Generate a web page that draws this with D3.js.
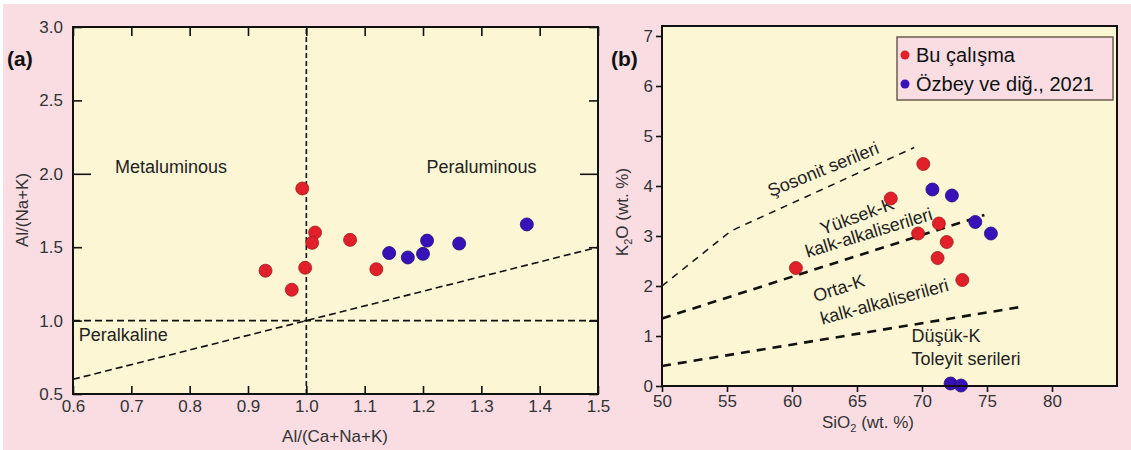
<!DOCTYPE html>
<html>
<head>
<meta charset="utf-8">
<script src="https://cdn.jsdelivr.net/npm/d3@7"></script>
<style>
body { margin:0; background:#ffffff; }
svg text { font-family: "Liberation Sans", Arial, sans-serif; }
</style>
</head>
<body>
<svg id="chart" width="1131" height="450"></svg>
<script>
// panel (a) : Al/(Ca+Na+K) vs Al/(Na+K)
var aRedX  = [0.993, 1.015, 1.010, 1.075, 0.998, 0.930, 0.975, 1.120];
var aRedY  = [1.90, 1.60, 1.53, 1.55, 1.36, 1.34, 1.21, 1.35];
var aBlueX = [1.142, 1.174, 1.200, 1.207, 1.262, 1.378];
var aBlueY = [1.46, 1.43, 1.455, 1.545, 1.525, 1.655];
var aTicksX = [0.6, 0.7, 0.8, 0.9, 1.0, 1.1, 1.2, 1.3, 1.4, 1.5];
var aTicksY = [0.5, 1.0, 1.5, 2.0, 2.5, 3.0];

// panel (b) : SiO2 vs K2O
var bRedSi  = [70.1, 67.6, 71.3, 69.7, 71.9, 71.2, 60.3, 73.1];
var bRedK   = [4.44, 3.75, 3.25, 3.05, 2.88, 2.56, 2.36, 2.12];
var bBlueSi = [70.8, 72.3, 74.1, 75.3, 72.2, 73.0];
var bBlueK  = [3.93, 3.81, 3.28, 3.05, 0.05, 0.01];
var bTicksX = [50, 55, 60, 65, 70, 75, 80];
var bTicksY = [0, 1, 2, 3, 4, 5, 6, 7];

// series boundaries (Peccerillo & Taylor style)
var lineShoshonite = [[50, 2.0], [55.3, 3.1], [69.4, 4.77]];
var lineHighK = [[50, 1.35], [74.8, 3.42]];
var lineLowK = [[50, 0.4], [77.8, 1.59]];

var legendNames = ["Bu çalışma", "Özbey ve diğ., 2021"];

var redFill = "#e2202a", redStroke = "#9a1a1c";
var blueFill = "#3812b8", blueStroke = "#1f0d78";
var pink = "#f9dde3", yellow = "#fdf6d4";

var svg = d3.select("#chart");

svg.append("rect").attr("x", 3).attr("y", 4).attr("width", 1128).attr("height", 446).attr("fill", pink);

var zip = function(xs, ys) {
    return xs.map(function(d, i) { return [d, ys[i]]; });
};

// ---------------- panel (a)
var xA = d3.scaleLinear().domain([0.6, 1.5]).range([73, 598]);
var yA = d3.scaleLinear().domain([0.5, 3.0]).range([394, 27]);

var gA = svg.append("g");
gA.append("rect")
    .attr("x", 73).attr("y", 27).attr("width", 525).attr("height", 367)
    .attr("fill", yellow);

var lineA = d3.line().x(function(d) { return xA(d[0]); }).y(function(d) { return yA(d[1]); });

gA.append("path").attr("d", lineA([[1.0, 0.5], [1.0, 3.0]]))
    .attr("stroke", "#111").attr("stroke-width", 1.6).attr("stroke-dasharray", "5,3").attr("fill", "none");
gA.append("path").attr("d", lineA([[0.6, 1.0], [1.5, 1.0]]))
    .attr("stroke", "#111").attr("stroke-width", 1.6).attr("stroke-dasharray", "7,4").attr("fill", "none");
gA.append("path").attr("d", lineA([[0.6, 0.6], [1.5, 1.5]]))
    .attr("stroke", "#111").attr("stroke-width", 1.6).attr("stroke-dasharray", "7,4").attr("fill", "none");

var axisStyle = function(g) {
    g.select(".domain").remove();
    g.selectAll(".tick line").attr("stroke", "#111").attr("stroke-width", 1.6);
    g.selectAll(".tick text").attr("fill", "#333").style("font-size", "17px");
};

gA.append("g").attr("transform", "translate(0,394)")
    .call(d3.axisBottom(xA).tickValues(aTicksX).tickSize(-8).tickPadding(6).tickFormat(d3.format(".1f")))
    .call(axisStyle);
gA.append("g").attr("transform", "translate(0,27)")
    .call(d3.axisTop(xA).tickValues(aTicksX).tickSize(-9).tickFormat(""))
    .call(axisStyle);
gA.append("g").attr("transform", "translate(73,0)")
    .call(d3.axisLeft(yA).tickValues(aTicksY).tickSize(-9).tickPadding(10).tickFormat(d3.format(".1f")))
    .call(axisStyle)
    .selectAll(".tick line").attr("x2", function(d) { return d === 2 ? 18 : 9; });
gA.append("g").attr("transform", "translate(598,0)")
    .call(d3.axisRight(yA).tickValues(aTicksY).tickSize(-9).tickFormat(""))
    .call(axisStyle)
    .selectAll(".tick line").attr("x2", function(d) { return d === 2 ? -18 : -9; });

gA.append("text").attr("x", xA(0.672)).attr("y", yA(2.046)).attr("dy", "0.35em")
    .style("font-size", "18px").attr("fill", "#222").text("Metaluminous");
gA.append("text").attr("x", xA(1.206)).attr("y", yA(2.046)).attr("dy", "0.35em")
    .style("font-size", "18px").attr("fill", "#222").text("Peraluminous");
gA.append("text").attr("x", xA(0.61)).attr("y", yA(0.902)).attr("dy", "0.35em")
    .style("font-size", "18px").attr("fill", "#222").text("Peralkaline");

gA.selectAll("circle.red").data(zip(aRedX, aRedY)).enter().append("circle")
    .attr("cx", function(d) { return xA(d[0]); })
    .attr("cy", function(d) { return yA(d[1]); })
    .attr("r", 6.5).attr("fill", redFill).attr("stroke", redStroke).attr("stroke-width", 0.8);
gA.selectAll("circle.blue").data(zip(aBlueX, aBlueY)).enter().append("circle")
    .attr("cx", function(d) { return xA(d[0]); })
    .attr("cy", function(d) { return yA(d[1]); })
    .attr("r", 6.5).attr("fill", blueFill).attr("stroke", blueStroke).attr("stroke-width", 0.8);

gA.append("rect")
    .attr("x", 73).attr("y", 27).attr("width", 525).attr("height", 367)
    .attr("fill", "none").attr("stroke", "#111").attr("stroke-width", 2);

gA.append("text").attr("x", 7).attr("y", 66).style("font-size", "21px").style("font-weight", "bold")
    .attr("fill", "#111").text("(a)");
gA.append("text").attr("transform", "translate(28,210) rotate(-90)").attr("text-anchor", "middle")
    .style("font-size", "17px").attr("fill", "#333").text("Al/(Na+K)");
gA.append("text").attr("x", 335).attr("y", 442).attr("text-anchor", "middle")
    .style("font-size", "17px").attr("fill", "#333").text("Al/(Ca+Na+K)");

// ---------------- panel (b)
var xB = d3.scaleLinear().domain([50, 85]).range([662, 1117]);
var yB = d3.scaleLinear().domain([0, 7.2]).range([386, 26]);

var gB = svg.append("g");
gB.append("rect")
    .attr("x", 662).attr("y", 26).attr("width", 455).attr("height", 360)
    .attr("fill", yellow);

var lineB = d3.line().x(function(d) { return xB(d[0]); }).y(function(d) { return yB(d[1]); });

gB.append("path").attr("d", lineB(lineShoshonite))
    .attr("stroke", "#111").attr("stroke-width", 1.5).attr("stroke-dasharray", "7,6").attr("fill", "none");
gB.append("path").attr("d", lineB(lineHighK))
    .attr("stroke", "#111").attr("stroke-width", 2.6).attr("stroke-dasharray", "9,7").attr("fill", "none");
gB.append("path").attr("d", lineB(lineLowK))
    .attr("stroke", "#111").attr("stroke-width", 2.6).attr("stroke-dasharray", "9,7").attr("fill", "none");

gB.append("g").attr("transform", "translate(0,386)")
    .call(d3.axisBottom(xB).tickValues(bTicksX).tickSize(6).tickPadding(3))
    .call(axisStyle);
gB.append("g").attr("transform", "translate(662,0)")
    .call(d3.axisLeft(yB).tickValues(bTicksY).tickSize(6).tickPadding(3))
    .call(axisStyle);

var rotLabel = function(txt, x, y, ang) {
    gB.append("text")
        .attr("transform", "translate(" + xB(x) + "," + yB(y) + ") rotate(" + ang + ")")
        .attr("text-anchor", "middle").attr("dy", "0.35em")
        .style("font-size", "18px").attr("fill", "#222").text(txt);
};
rotLabel("Şosonit serileri", 62.4, 4.34, -22);
rotLabel("Yüksek-K", 65.0, 3.40, -20);
rotLabel("kalk-alkaliserileri", 65.9, 3.07, -17);
rotLabel("Orta-K", 63.6, 1.96, -18);
rotLabel("kalk-alkaliserileri", 67.1, 1.69, -15);

gB.append("text").attr("x", xB(69.2)).attr("y", yB(1.0)).attr("dy", "0.35em")
    .style("font-size", "18px").attr("fill", "#222").text("Düşük-K");
gB.append("text").attr("x", xB(69.2)).attr("y", yB(0.54)).attr("dy", "0.35em")
    .style("font-size", "18px").attr("fill", "#222").text("Toleyit serileri");

gB.selectAll("circle.red").data(zip(bRedSi, bRedK)).enter().append("circle")
    .attr("cx", function(d) { return xB(d[0]); })
    .attr("cy", function(d) { return yB(d[1]); })
    .attr("r", 6.5).attr("fill", redFill).attr("stroke", redStroke).attr("stroke-width", 0.8);
gB.selectAll("circle.blue").data(zip(bBlueSi, bBlueK)).enter().append("circle")
    .attr("cx", function(d) { return xB(d[0]); })
    .attr("cy", function(d) { return yB(d[1]); })
    .attr("r", 6.5).attr("fill", blueFill).attr("stroke", blueStroke).attr("stroke-width", 0.8);

gB.append("rect")
    .attr("x", 662).attr("y", 26).attr("width", 455).attr("height", 360)
    .attr("fill", "none").attr("stroke", "#111").attr("stroke-width", 2);

// legend
var leg = gB.append("g").attr("transform", "translate(897,37)");
leg.append("rect").attr("width", 216).attr("height", 63)
    .attr("fill", pink).attr("stroke", "#6b5e50").attr("stroke-width", 1.5);
leg.selectAll("circle").data(legendNames).enter().append("circle")
    .attr("cx", 8).attr("cy", function(d, i) { return 18 + i * 29; })
    .attr("r", 4.5)
    .attr("fill", function(d, i) { return i === 0 ? redFill : blueFill; });
leg.selectAll("text").data(legendNames).enter().append("text")
    .attr("x", 19).attr("y", function(d, i) { return 18 + i * 29; }).attr("dy", "0.35em")
    .style("font-size", "20px").attr("fill", "#111")
    .text(function(d) { return d; });

gB.append("text").attr("x", 611).attr("y", 66).style("font-size", "21px").style("font-weight", "bold")
    .attr("fill", "#111").text("(b)");

var kLabel = gB.append("text").attr("transform", "translate(628,212) rotate(-90)").attr("text-anchor", "middle")
    .style("font-size", "17px").attr("fill", "#333");
kLabel.append("tspan").text("K");
kLabel.append("tspan").attr("dy", 4).style("font-size", "11px").text("2");
kLabel.append("tspan").attr("dy", -4).text("O (wt. %)");

var siLabel = gB.append("text").attr("x", 868).attr("y", 428).attr("text-anchor", "middle")
    .style("font-size", "17px").attr("fill", "#333");
siLabel.append("tspan").text("SiO");
siLabel.append("tspan").attr("dy", 4).style("font-size", "11px").text("2");
siLabel.append("tspan").attr("dy", -4).text(" (wt. %)");
</script>
</body>
</html>
